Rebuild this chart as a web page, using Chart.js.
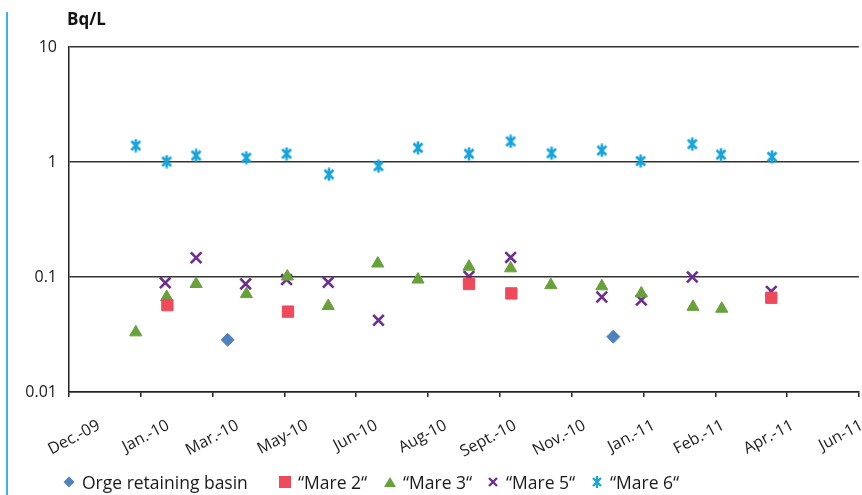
<!DOCTYPE html>
<html>
<head>
<meta charset="utf-8">
<script src="https://cdn.jsdelivr.net/npm/chart.js@4.4.0/dist/chart.umd.min.js"></script>
<style>
  html, body { margin: 0; padding: 0; background: #fff; }
  #wrap { position: relative; width: 862px; height: 495px; overflow: hidden; }
  #sideLine { position: absolute; left: 6px; top: 12px; bottom: 0; width: 2px; background: #3db5e3; }
  #legend { position: absolute; left: 63px; top: 471px; display: flex; font-family: 'Open Sans', sans-serif; font-size: 17.5px; color: #1a1a1a; line-height: 22px; }
  #legend .item { display: flex; align-items: center; }
  #legend svg { margin-right: 7px; }
</style>
</head>
<body>
<div id="wrap">
  <div id="sideLine"></div>
  <!-- a bit wider than the page: chart.js keeps ~10px on the right, the extra is cut off -->
  <canvas id="chart" width="869" height="495"></canvas>
  <div id="legend"></div>
</div>
<script>
// axis labels
const yUnit = "Bq/L";
const xTickLabels = ["Dec.-09", "Jan.-10", "Mar.-10", "May-10", "Jun-10", "Aug-10", "Sept.-10", "Nov.-10", "Jan.-11", "Feb.-11", "Apr.-11", "Jun-11"];
const yTickValues = [0.01, 0.1, 1, 10];
const yTickLabels = ["0.01", "0.1", "1", "10"];

// x positions are in tick units (0 = Dec.-09 ... 11 = Jun-11)
const orgeX = [2.21, 7.58];
const orgeY = [0.0284, 0.0303];

const mare2X = [1.37, 3.05, 5.57, 6.16, 9.78];
const mare2Y = [0.057, 0.050, 0.087, 0.072, 0.066];

const mare3X = [0.93, 1.36, 1.77, 2.47, 3.04, 3.61, 4.30, 4.86, 5.57, 6.15, 6.71, 7.42, 7.97, 8.69, 9.09];
const mare3Y = [0.033, 0.067, 0.087, 0.071, 0.101, 0.056, 0.131, 0.095, 0.123, 0.119, 0.085, 0.083, 0.072, 0.055, 0.053];

const mare5X = [1.34, 1.77, 2.46, 3.03, 3.61, 4.31, 5.57, 6.15, 7.42, 7.97, 8.68, 9.78];
const mare5Y = [0.089, 0.147, 0.087, 0.095, 0.090, 0.042, 0.101, 0.148, 0.067, 0.063, 0.100, 0.075];

const mare6X = [0.93, 1.36, 1.77, 2.47, 3.03, 3.62, 4.31, 4.86, 5.57, 6.15, 6.72, 7.42, 7.96, 8.68, 9.08, 9.79];
const mare6Y = [1.39, 1.01, 1.14, 1.09, 1.18, 0.78, 0.92, 1.33, 1.18, 1.51, 1.19, 1.26, 1.02, 1.43, 1.16, 1.11];

const seriesNames = ["Orge retaining basin", "\u201CMare 2\u201C", "\u201CMare 3\u201C", "\u201CMare 5\u201C", "\u201CMare 6\u201C"];

const BLUE = "#4f81bd", RED = "#ef4a5b", GREEN = "#68a03a", PURPLE = "#6b2d8f", CYAN = "#16a4dc";

function toPoints(xs, ys) {
  return xs.map((x, i) => ({ x: x, y: ys[i] }));
}

// asterisk marker like the spreadsheet "star"
function makeAsterisk(color) {
  const c = document.createElement("canvas");
  c.width = 14; c.height = 14;
  const g = c.getContext("2d");
  g.strokeStyle = color;
  g.lineWidth = 2.6;
  g.beginPath();
  g.moveTo(2.5, 2.5); g.lineTo(11.5, 11.5);
  g.moveTo(11.5, 2.5); g.lineTo(2.5, 11.5);
  g.moveTo(7, 0.5); g.lineTo(7, 13.5);
  g.stroke();
  return c;
}

const unitLabel = {
  id: "unitLabel",
  afterDraw(chart) {
    const ctx = chart.ctx;
    ctx.save();
    ctx.font = "bold 17px 'Open Sans', sans-serif";
    ctx.fillStyle = "#111";
    ctx.textBaseline = "middle";
    ctx.fillText(yUnit, chart.chartArea.left - 2, 20);
    ctx.restore();
  }
};

Chart.defaults.font.family = "'Open Sans', sans-serif";
Chart.defaults.color = "#1a1a1a";

const chart = new Chart(document.getElementById("chart"), {
  type: "scatter",
  data: {
    datasets: [
      { label: seriesNames[0], data: toPoints(orgeX, orgeY), pointStyle: "rectRot", pointRadius: 6.5, backgroundColor: BLUE, borderColor: BLUE, borderWidth: 1 },
      { label: seriesNames[1], data: toPoints(mare2X, mare2Y), pointStyle: "rect", pointRadius: 8, backgroundColor: RED, borderColor: RED, borderWidth: 1 },
      { label: seriesNames[2], data: toPoints(mare3X, mare3Y), pointStyle: "triangle", pointRadius: 7, backgroundColor: GREEN, borderColor: GREEN, borderWidth: 1 },
      { label: seriesNames[3], data: toPoints(mare5X, mare5Y), pointStyle: "crossRot", pointRadius: 7.5, backgroundColor: PURPLE, borderColor: PURPLE, borderWidth: 2.6 },
      { label: seriesNames[4], data: toPoints(mare6X, mare6Y), pointStyle: makeAsterisk(CYAN), pointRadius: 7, backgroundColor: CYAN, borderColor: CYAN }
    ]
  },
  options: {
    responsive: false,
    animation: false,
    devicePixelRatio: 1,
    layout: { padding: { left: 0, right: 3, top: 47, bottom: 38 } },
    plugins: { legend: { display: false }, tooltip: { enabled: false } },
    scales: {
      x: {
        type: "linear",
        position: "bottom",
        weight: 0,
        min: 0,
        max: xTickLabels.length - 1,
        afterBuildTicks: (s) => { s.ticks = xTickLabels.map((_, i) => ({ value: i })); },
        ticks: { display: false },
        grid: { drawOnChartArea: false, drawTicks: true, tickLength: 5, color: "#222", lineWidth: 1.5 },
        border: { display: true, color: "#222", width: 1.5 },
        afterFit: (s) => { s.height = 5; s.paddingLeft = 0; s.paddingRight = 0; }
      },
      // second bottom axis only for the rotated date labels (spaced a little tighter than the ticks)
      xLabels: {
        type: "linear",
        position: "bottom",
        weight: 1,
        min: -0.43,
        max: 10.955,
        afterBuildTicks: (s) => { s.ticks = xTickLabels.map((_, i) => ({ value: i })); },
        ticks: {
          autoSkip: false,
          maxRotation: 28,
          minRotation: 28,
          padding: 11,
          font: { size: 16 },
          callback: (v, i) => xTickLabels[i]
        },
        grid: { display: false },
        border: { display: false },
        afterFit: (s) => { s.height = 60; s.paddingLeft = 0; s.paddingRight = 0; }
      },
      y: {
        type: "logarithmic",
        min: yTickValues[0],
        max: yTickValues[yTickValues.length - 1],
        afterBuildTicks: (s) => { s.ticks = yTickValues.map((v) => ({ value: v })); },
        ticks: { padding: 12, font: { size: 16 }, callback: (v, i) => yTickLabels[i] },
        grid: { color: "#333", lineWidth: 1.5, drawTicks: false },
        border: { display: true, color: "#222", width: 1.5 },
        afterFit: (s) => { s.width = 69; }
      }
    }
  },
  plugins: [unitLabel]
});

// legend built as HTML from the datasets
const markerSvgs = [
  '<svg width="12" height="12"><polygon points="6,0.5 11.5,6 6,11.5 0.5,6" fill="' + BLUE + '"/></svg>',
  '<svg width="12" height="12"><rect x="0" y="0" width="12" height="12" fill="' + RED + '"/></svg>',
  '<svg width="12" height="12"><polygon points="6,1 12,11 0,11" fill="' + GREEN + '"/></svg>',
  '<svg width="12" height="12"><path d="M2,2 L10,10 M10,2 L2,10" stroke="' + PURPLE + '" stroke-width="2.4"/></svg>',
  '<svg width="12" height="12"><path d="M2,2 L10,10 M10,2 L2,10 M6,0 L6,12" stroke="' + CYAN + '" stroke-width="2.2"/></svg>'
];
const legendWidths = [216, 105, 103, 104, 110];
const legendEl = document.getElementById("legend");
chart.data.datasets.forEach((ds, i) => {
  const item = document.createElement("div");
  item.className = "item";
  item.style.width = legendWidths[i] + "px";
  item.innerHTML = markerSvgs[i] + "<span>" + ds.label + "</span>";
  legendEl.appendChild(item);
});
</script>
</body>
</html>
